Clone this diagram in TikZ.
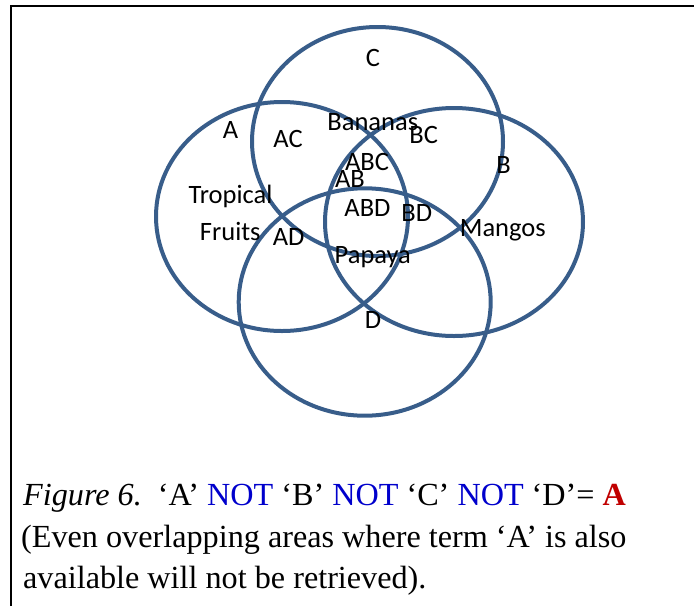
\documentclass[tikz,border=0pt]{standalone}
\usepackage{fontspec}
\setmainfont{Liberation Serif}
\newfontfamily\calibri{Carlito}
\usepackage{xcolor}
\usetikzlibrary{positioning}
\definecolor{vennblue}{RGB}{56,93,138}
\definecolor{notblue}{RGB}{0,0,204}
\definecolor{darkred}{RGB}{192,0,0}

\begin{document}
\begin{tikzpicture}[x=1pt, y=-1pt,
    set/.style={draw=vennblue, line width=4pt},
    lbl/.style={anchor=base, inner sep=0pt, font=\calibri\fontsize{26.5}{30}\selectfont},
    captext/.style={anchor=base west, inner sep=0pt, font=\fontsize{32.2}{38}\selectfont}
]
    \useasboundingbox (0,0) rectangle (694,606);
    \draw[line width=2pt] (11,606) -- (11,6) -- (694,6);

    % the four sets
    \draw[set] (377.5,141.5) ellipse [x radius=125.5, y radius=114.5]; % C
    \draw[set] (282,216.5) ellipse [x radius=126, y radius=114.5];     % A
    \draw[set] (454,222) ellipse [x radius=129, y radius=114];         % B
    \draw[set] (364.7,302) ellipse [x radius=126, y radius=113.7];     % D

    % region labels
    \node[lbl] (c) at (373,66.7) {C};
    \node[lbl] (a) at (230.5,138.3) {A};
    \node[lbl] (ac) at (288,147.3) {AC};
    \node[lbl] (bananas) at (372.8,130) {Bananas};
    \node[lbl] (bc) at (423.7,143.3) {BC};
    \node[lbl] (abc) at (367,170) {ABC};
    \node[lbl] (ab) at (350,187.3) {AB};
    \node[lbl] (b) at (503.5,173.3) {B};
    \node[lbl] (tropical) at (230.5,203.3) {Tropical};
    \node[lbl] (abd) at (367.5,216) {ABD};
    \node[lbl] (bd) at (416.7,221.7) {BD};
    \node[lbl] (fruits) at (230.3,240) {Fruits};
    \node[lbl] (ad) at (288.7,245) {AD};
    \node[lbl] (mangos) at (502.8,236.7) {Mangos};
    \node[lbl] (papaya) at (372.8,263.3) {Papaya};
    \node[lbl] (d) at (373,328.3) {D};

    % caption
    \node[captext] (cap1) at (23,505) {\textit{Figure 6.}\ \ ‘A’ \textcolor{notblue}{NOT} ‘B’ \textcolor{notblue}{NOT} ‘C’ \textcolor{notblue}{NOT} ‘D’= \textcolor{darkred}{\bfseries A}};
    \node[captext] (cap2) at (21,547) {(Even overlapping areas where term ‘A’ is also};
    \node[captext] (cap3) at (23,588) {available will not be retrieved).};
\end{tikzpicture}
\end{document}
